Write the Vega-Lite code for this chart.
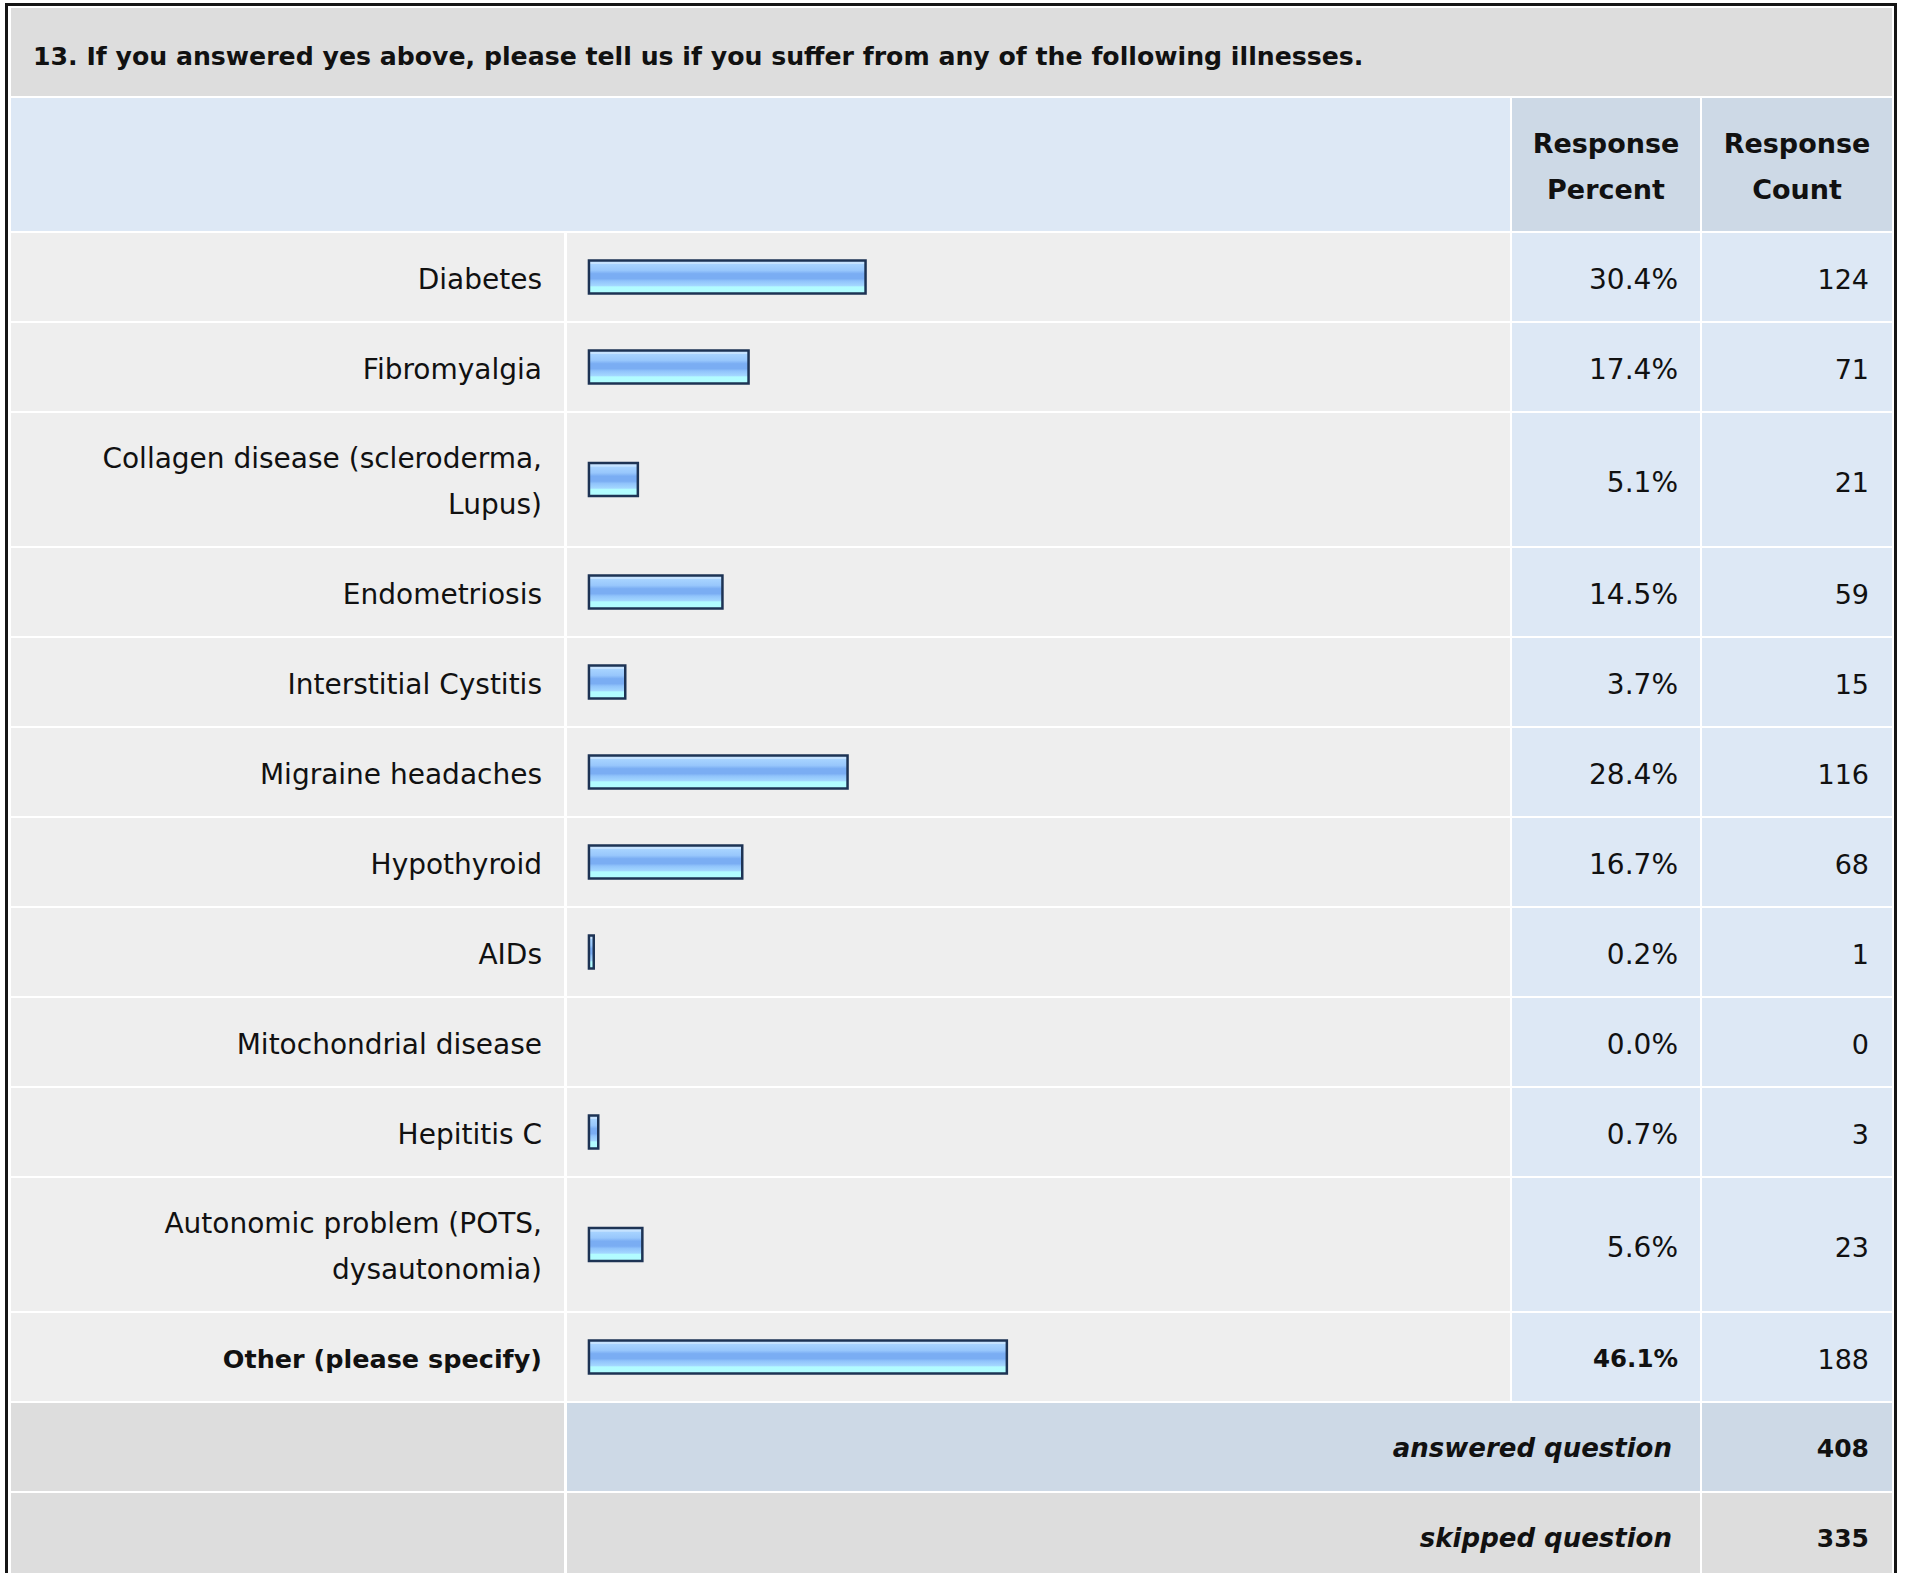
{
  "$schema": "https://vega.github.io/schema/vega-lite/v6.json",
  "width": 1907,
  "height": 1573,
  "autosize": "none",
  "padding": 0,
  "background": "white",
  "config": {"view": {"stroke": null}, "text": {"font": "DejaVu Sans", "color": "#111111"}},
  "layer": [
    {
      "data": {"values": [{}]},
      "mark": {"type": "rect", "fill": "white", "stroke": "#151515", "strokeWidth": 3},
      "encoding": {"x": {"value": 6.5}, "x2": {"value": 1895.5}, "y": {"value": 4.5}, "y2": {"value": 1600}}
    },
    {
      "data": {
        "values": [
          {"n": 1, "kind": "title", "label": "13. If you answered yes above, please tell us if you suffer from any of the following illnesses."},
          {"n": 2, "kind": "header", "label": "", "pctHead": ["Response", "Percent"], "countHead": ["Response", "Count"]},
          {"n": 3, "kind": "answer", "label": "Diabetes", "percent": 0.304, "count": 124},
          {"n": 4, "kind": "answer", "label": "Fibromyalgia", "percent": 0.174, "count": 71},
          {"n": 5, "kind": "answer", "label": ["Collagen disease (scleroderma,", "Lupus)"], "percent": 0.051, "count": 21},
          {"n": 6, "kind": "answer", "label": "Endometriosis", "percent": 0.145, "count": 59},
          {"n": 7, "kind": "answer", "label": "Interstitial Cystitis", "percent": 0.037, "count": 15},
          {"n": 8, "kind": "answer", "label": "Migraine headaches", "percent": 0.284, "count": 116},
          {"n": 9, "kind": "answer", "label": "Hypothyroid", "percent": 0.167, "count": 68},
          {"n": 10, "kind": "answer", "label": "AIDs", "percent": 0.002, "count": 1},
          {"n": 11, "kind": "answer", "label": "Mitochondrial disease", "percent": 0.0, "count": 0},
          {"n": 12, "kind": "answer", "label": "Hepititis C", "percent": 0.007, "count": 3},
          {"n": 13, "kind": "answer", "label": ["Autonomic problem (POTS,", "dysautonomia)"], "percent": 0.056, "count": 23},
          {"n": 14, "kind": "other", "label": "Other (please specify)", "percent": 0.461, "count": 188},
          {"n": 15, "kind": "answered", "label": "answered question", "count": 408},
          {"n": 16, "kind": "skipped", "label": "skipped question", "count": 335}
        ]
      },
      "transform": [
        {"calculate": "isArray(datum.label) ? length(datum.label) : (isArray(datum.pctHead) ? length(datum.pctHead) : 1)", "as": "lines"},
        {"calculate": "datum.lines + 1", "as": "units"},
        {"window": [{"op": "sum", "field": "units", "as": "end"}], "sort": [{"field": "n", "order": "ascending"}], "frame": [null, 0], "ignorePeers": true},
        {"calculate": "datum.end - datum.units", "as": "start"},
        {"calculate": "datum.start + datum.units / 2", "as": "mid"}
      ],
      "layer": [
        {
          "transform": [{"filter": "datum.kind == 'title'"}],
          "mark": {"type": "rect", "fill": "#dddddd", "y2Offset": -2},
          "encoding": {
            "x": {"value": 11}, "x2": {"value": 1892},
            "y": {"field": "start", "type": "quantitative", "axis": null, "scale": {"domain": [-0.177778, 34.777778], "reverse": true, "nice": false, "zero": false}},
            "y2": {"field": "end"}
          }
        },
        {
          "transform": [{"filter": "datum.kind == 'header'"}],
          "mark": {"type": "rect", "fill": "#dde8f5", "y2Offset": -2},
          "encoding": {
            "x": {"value": 11}, "x2": {"value": 1510},
            "y": {"field": "start", "type": "quantitative", "axis": null, "scale": {"domain": [-0.177778, 34.777778], "reverse": true, "nice": false, "zero": false}},
            "y2": {"field": "end"}
          }
        },
        {
          "transform": [{"filter": "datum.kind != 'title' && datum.kind != 'header'"}],
          "mark": {"type": "rect", "y2Offset": -2},
          "encoding": {
            "x": {"value": 11}, "x2": {"value": 564},
            "y": {"field": "start", "type": "quantitative", "axis": null, "scale": {"domain": [-0.177778, 34.777778], "reverse": true, "nice": false, "zero": false}},
            "y2": {"field": "end"},
            "fill": {"condition": {"test": "datum.kind == 'answer' || datum.kind == 'other'", "value": "#eeeeee"}, "value": "#dddddd"}
          }
        },
        {
          "transform": [{"filter": "datum.kind == 'answer' || datum.kind == 'other'"}],
          "mark": {"type": "rect", "fill": "#eeeeee", "y2Offset": -2},
          "encoding": {
            "x": {"value": 567}, "x2": {"value": 1510},
            "y": {"field": "start", "type": "quantitative", "axis": null, "scale": {"domain": [-0.177778, 34.777778], "reverse": true, "nice": false, "zero": false}},
            "y2": {"field": "end"}
          }
        },
        {
          "transform": [{"filter": "datum.kind == 'answered' || datum.kind == 'skipped'"}],
          "mark": {"type": "rect", "y2Offset": -2},
          "encoding": {
            "x": {"value": 567}, "x2": {"value": 1700},
            "y": {"field": "start", "type": "quantitative", "axis": null, "scale": {"domain": [-0.177778, 34.777778], "reverse": true, "nice": false, "zero": false}},
            "y2": {"field": "end"},
            "fill": {"condition": {"test": "datum.kind == 'answered'", "value": "#cdd9e6"}, "value": "#dddddd"}
          }
        },
        {
          "transform": [{"filter": "datum.kind == 'header' || datum.kind == 'answer' || datum.kind == 'other'"}],
          "mark": {"type": "rect", "y2Offset": -2},
          "encoding": {
            "x": {"value": 1512}, "x2": {"value": 1700},
            "y": {"field": "start", "type": "quantitative", "axis": null, "scale": {"domain": [-0.177778, 34.777778], "reverse": true, "nice": false, "zero": false}},
            "y2": {"field": "end"},
            "fill": {"condition": {"test": "datum.kind == 'header'", "value": "#cdd9e6"}, "value": "#dde8f5"}
          }
        },
        {
          "transform": [{"filter": "datum.kind != 'title'"}],
          "mark": {"type": "rect", "y2Offset": -2},
          "encoding": {
            "x": {"value": 1702}, "x2": {"value": 1892},
            "y": {"field": "start", "type": "quantitative", "axis": null, "scale": {"domain": [-0.177778, 34.777778], "reverse": true, "nice": false, "zero": false}},
            "y2": {"field": "end"},
            "fill": {"condition": [
              {"test": "datum.kind == 'header' || datum.kind == 'answered'", "value": "#cdd9e6"},
              {"test": "datum.kind == 'answer' || datum.kind == 'other'", "value": "#dde8f5"}
            ], "value": "#dddddd"}
          }
        },
        {
          "transform": [{"filter": "(datum.kind == 'answer' || datum.kind == 'other') && datum.percent > 0"}],
          "mark": {
            "type": "rect",
            "xOffset": 1.5,
            "x2Offset": -1.5,
            "yOffset": -17.5,
            "y2Offset": 15.5,
            "stroke": "#1d3354",
            "strokeWidth": 2.5,
            "fill": {
              "gradient": "linear", "x1": 0, "y1": 0, "x2": 0, "y2": 1,
              "stops": [
                {"offset": 0, "color": "#c6e3ff"},
                {"offset": 0.1, "color": "#c6e3ff"},
                {"offset": 0.12, "color": "#a7d3ff"},
                {"offset": 0.3, "color": "#98c7fc"},
                {"offset": 0.4, "color": "#7aadf3"},
                {"offset": 0.55, "color": "#7aadf3"},
                {"offset": 0.62, "color": "#90c3fb"},
                {"offset": 0.76, "color": "#a3d7ff"},
                {"offset": 0.8, "color": "#b2fcff"},
                {"offset": 1, "color": "#b2fdff"}
              ]
            }
          },
          "encoding": {
            "x": {"field": "percent", "type": "quantitative", "axis": null, "scale": {"domain": [-0.656056, 1.462833], "nice": false, "zero": false}},
            "x2": {"datum": 0},
            "y": {"field": "mid", "type": "quantitative", "axis": null, "scale": {"domain": [-0.177778, 34.777778], "reverse": true, "nice": false, "zero": false}},
            "y2": {"field": "mid"}
          }
        },
        {
          "transform": [{"filter": "datum.kind == 'title'"}],
          "mark": {"type": "text", "align": "left", "baseline": "middle", "fontWeight": "bold", "fontSize": 25.2, "yOffset": 3.5},
          "encoding": {
            "x": {"value": 33},
            "y": {"field": "mid", "type": "quantitative", "axis": null, "scale": {"domain": [-0.177778, 34.777778], "reverse": true, "nice": false, "zero": false}},
            "text": {"field": "label"}
          }
        },
        {
          "transform": [{"filter": "datum.kind == 'answer' && datum.lines == 1"}],
          "mark": {"type": "text", "align": "right", "baseline": "middle", "fontSize": 28, "yOffset": 3},
          "encoding": {
            "x": {"value": 542},
            "y": {"field": "mid", "type": "quantitative", "axis": null, "scale": {"domain": [-0.177778, 34.777778], "reverse": true, "nice": false, "zero": false}},
            "text": {"field": "label"}
          }
        },
        {
          "transform": [{"filter": "datum.kind == 'answer' && datum.lines == 2"}],
          "mark": {"type": "text", "align": "right", "baseline": "middle", "fontSize": 28, "lineHeight": 46, "yOffset": -20.5},
          "encoding": {
            "x": {"value": 542},
            "y": {"field": "mid", "type": "quantitative", "axis": null, "scale": {"domain": [-0.177778, 34.777778], "reverse": true, "nice": false, "zero": false}},
            "text": {"field": "label"}
          }
        },
        {
          "transform": [{"filter": "datum.kind == 'other'"}],
          "mark": {"type": "text", "align": "right", "baseline": "middle", "fontSize": 25.5, "fontWeight": "bold", "yOffset": 1.5},
          "encoding": {
            "x": {"value": 542},
            "y": {"field": "mid", "type": "quantitative", "axis": null, "scale": {"domain": [-0.177778, 34.777778], "reverse": true, "nice": false, "zero": false}},
            "text": {"field": "label"}
          }
        },
        {
          "transform": [{"filter": "datum.kind == 'answer'"}],
          "mark": {"type": "text", "align": "right", "baseline": "middle", "fontSize": 28, "yOffset": 3},
          "encoding": {
            "x": {"value": 1678},
            "y": {"field": "mid", "type": "quantitative", "axis": null, "scale": {"domain": [-0.177778, 34.777778], "reverse": true, "nice": false, "zero": false}},
            "text": {"field": "percent", "type": "quantitative", "format": ".1%"}
          }
        },
        {
          "transform": [{"filter": "datum.kind == 'other'"}],
          "mark": {"type": "text", "align": "right", "baseline": "middle", "fontSize": 24.5, "fontWeight": "bold", "yOffset": 1.5},
          "encoding": {
            "x": {"value": 1678},
            "y": {"field": "mid", "type": "quantitative", "axis": null, "scale": {"domain": [-0.177778, 34.777778], "reverse": true, "nice": false, "zero": false}},
            "text": {"field": "percent", "type": "quantitative", "format": ".1%"}
          }
        },
        {
          "transform": [{"filter": "datum.kind == 'answer' || datum.kind == 'other'"}],
          "mark": {"type": "text", "align": "right", "baseline": "middle", "fontSize": 27, "yOffset": 3},
          "encoding": {
            "x": {"value": 1869},
            "y": {"field": "mid", "type": "quantitative", "axis": null, "scale": {"domain": [-0.177778, 34.777778], "reverse": true, "nice": false, "zero": false}},
            "text": {"field": "count", "type": "quantitative"}
          }
        },
        {
          "transform": [{"filter": "datum.kind == 'answered' || datum.kind == 'skipped'"}],
          "mark": {"type": "text", "align": "right", "baseline": "middle", "fontSize": 25, "fontWeight": "bold", "yOffset": 1},
          "encoding": {
            "x": {"value": 1869},
            "y": {"field": "mid", "type": "quantitative", "axis": null, "scale": {"domain": [-0.177778, 34.777778], "reverse": true, "nice": false, "zero": false}},
            "text": {"field": "count", "type": "quantitative"}
          }
        },
        {
          "transform": [{"filter": "datum.kind == 'answered' || datum.kind == 'skipped'"}],
          "mark": {"type": "text", "align": "right", "baseline": "middle", "fontSize": 26, "fontWeight": "bold", "fontStyle": "italic", "yOffset": 1},
          "encoding": {
            "x": {"value": 1672},
            "y": {"field": "mid", "type": "quantitative", "axis": null, "scale": {"domain": [-0.177778, 34.777778], "reverse": true, "nice": false, "zero": false}},
            "text": {"field": "label"}
          }
        },
        {
          "transform": [{"filter": "datum.kind == 'header'"}],
          "mark": {"type": "text", "align": "center", "baseline": "middle", "fontSize": 27, "fontWeight": "bold", "lineHeight": 46, "yOffset": -20.5},
          "encoding": {
            "x": {"value": 1606},
            "y": {"field": "mid", "type": "quantitative", "axis": null, "scale": {"domain": [-0.177778, 34.777778], "reverse": true, "nice": false, "zero": false}},
            "text": {"field": "pctHead"}
          }
        },
        {
          "transform": [{"filter": "datum.kind == 'header'"}],
          "mark": {"type": "text", "align": "center", "baseline": "middle", "fontSize": 27, "fontWeight": "bold", "lineHeight": 46, "yOffset": -20.5},
          "encoding": {
            "x": {"value": 1797},
            "y": {"field": "mid", "type": "quantitative", "axis": null, "scale": {"domain": [-0.177778, 34.777778], "reverse": true, "nice": false, "zero": false}},
            "text": {"field": "countHead"}
          }
        }
      ]
    }
  ]
}
